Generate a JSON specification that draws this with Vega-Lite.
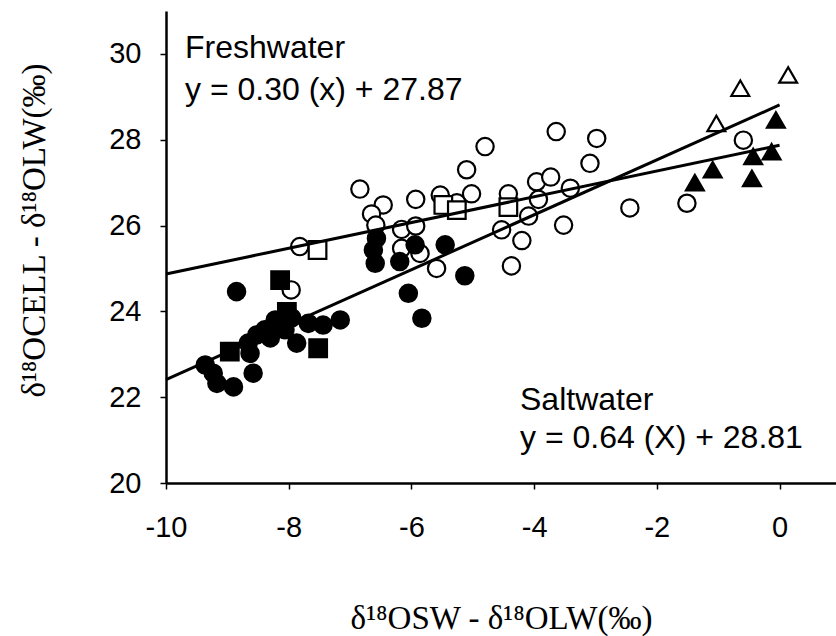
{
  "$schema": "https://vega.github.io/schema/vega-lite/v6.json",
  "autosize": {"type": "none"},
  "padding": {"left": 166, "top": 11, "right": 0, "bottom": 153},
  "width": 670,
  "height": 472,
  "background": "white",
  "config": {"view": {"stroke": null}},
  "datasets": {
    "pts": [
      {"x": -7.82, "y": 25.51, "water": "Freshwater", "species": "A"},
      {"x": -7.96, "y": 24.50, "water": "Freshwater", "species": "A"},
      {"x": -6.84, "y": 26.85, "water": "Freshwater", "species": "A"},
      {"x": -6.46, "y": 26.48, "water": "Freshwater", "species": "A"},
      {"x": -6.65, "y": 26.27, "water": "Freshwater", "species": "A"},
      {"x": -6.58, "y": 26.01, "water": "Freshwater", "species": "A"},
      {"x": -5.93, "y": 26.61, "water": "Freshwater", "species": "A"},
      {"x": -5.53, "y": 26.71, "water": "Freshwater", "species": "A"},
      {"x": -6.16, "y": 25.91, "water": "Freshwater", "species": "A"},
      {"x": -5.93, "y": 25.99, "water": "Freshwater", "species": "A"},
      {"x": -5.86, "y": 25.35, "water": "Freshwater", "species": "A"},
      {"x": -5.59, "y": 25.00, "water": "Freshwater", "species": "A"},
      {"x": -6.16, "y": 25.47, "water": "Freshwater", "species": "A"},
      {"x": -5.02, "y": 26.74, "water": "Freshwater", "species": "A"},
      {"x": -5.26, "y": 26.53, "water": "Freshwater", "species": "A"},
      {"x": -4.42, "y": 26.74, "water": "Freshwater", "species": "A"},
      {"x": -3.96, "y": 27.02, "water": "Freshwater", "species": "A"},
      {"x": -3.73, "y": 27.13, "water": "Freshwater", "species": "A"},
      {"x": -3.41, "y": 26.87, "water": "Freshwater", "species": "A"},
      {"x": -3.93, "y": 26.61, "water": "Freshwater", "species": "A"},
      {"x": -4.09, "y": 26.22, "water": "Freshwater", "species": "A"},
      {"x": -4.53, "y": 25.90, "water": "Freshwater", "species": "A"},
      {"x": -4.20, "y": 25.65, "water": "Freshwater", "species": "A"},
      {"x": -3.52, "y": 26.01, "water": "Freshwater", "species": "A"},
      {"x": -4.37, "y": 25.06, "water": "Freshwater", "species": "A"},
      {"x": -3.64, "y": 28.19, "water": "Freshwater", "species": "A"},
      {"x": -2.98, "y": 28.03, "water": "Freshwater", "species": "A"},
      {"x": -4.80, "y": 27.84, "water": "Freshwater", "species": "A"},
      {"x": -5.10, "y": 27.30, "water": "Freshwater", "species": "A"},
      {"x": -3.09, "y": 27.45, "water": "Freshwater", "species": "A"},
      {"x": -2.44, "y": 26.41, "water": "Freshwater", "species": "A"},
      {"x": -1.51, "y": 26.52, "water": "Freshwater", "species": "A"},
      {"x": -0.59, "y": 27.99, "water": "Freshwater", "species": "A"},
      {"x": -7.53, "y": 25.43, "water": "Freshwater", "species": "B"},
      {"x": -5.48, "y": 26.48, "water": "Freshwater", "species": "B"},
      {"x": -5.26, "y": 26.36, "water": "Freshwater", "species": "B"},
      {"x": -4.42, "y": 26.43, "water": "Freshwater", "species": "B"},
      {"x": -0.64, "y": 29.20, "water": "Freshwater", "species": "C"},
      {"x": 0.14, "y": 29.51, "water": "Freshwater", "species": "C"},
      {"x": -1.03, "y": 28.38, "water": "Freshwater", "species": "C"},
      {"x": -8.85, "y": 24.46, "water": "Saltwater", "species": "A"},
      {"x": -7.16, "y": 23.80, "water": "Saltwater", "species": "A"},
      {"x": -7.44, "y": 23.68, "water": "Saltwater", "species": "A"},
      {"x": -7.68, "y": 23.72, "water": "Saltwater", "species": "A"},
      {"x": -7.87, "y": 23.26, "water": "Saltwater", "species": "A"},
      {"x": -8.06, "y": 23.57, "water": "Saltwater", "species": "A"},
      {"x": -8.22, "y": 23.80, "water": "Saltwater", "species": "A"},
      {"x": -8.39, "y": 23.57, "water": "Saltwater", "species": "A"},
      {"x": -8.52, "y": 23.45, "water": "Saltwater", "species": "A"},
      {"x": -8.66, "y": 23.26, "water": "Saltwater", "species": "A"},
      {"x": -8.63, "y": 23.02, "water": "Saltwater", "species": "A"},
      {"x": -8.58, "y": 22.56, "water": "Saltwater", "species": "A"},
      {"x": -9.36, "y": 22.75, "water": "Saltwater", "species": "A"},
      {"x": -9.23, "y": 22.56, "water": "Saltwater", "species": "A"},
      {"x": -9.17, "y": 22.32, "water": "Saltwater", "species": "A"},
      {"x": -8.90, "y": 22.24, "water": "Saltwater", "species": "A"},
      {"x": -7.95, "y": 23.85, "water": "Saltwater", "species": "A"},
      {"x": -8.30, "y": 23.38, "water": "Saltwater", "species": "A"},
      {"x": -6.57, "y": 25.70, "water": "Saltwater", "species": "A"},
      {"x": -6.62, "y": 25.43, "water": "Saltwater", "species": "A"},
      {"x": -6.59, "y": 25.12, "water": "Saltwater", "species": "A"},
      {"x": -6.19, "y": 25.16, "water": "Saltwater", "species": "A"},
      {"x": -5.94, "y": 25.55, "water": "Saltwater", "species": "A"},
      {"x": -5.45, "y": 25.55, "water": "Saltwater", "species": "A"},
      {"x": -6.05, "y": 24.42, "water": "Saltwater", "species": "A"},
      {"x": -5.83, "y": 23.84, "water": "Saltwater", "species": "A"},
      {"x": -5.13, "y": 24.83, "water": "Saltwater", "species": "A"},
      {"x": -8.14, "y": 24.73, "water": "Saltwater", "species": "B"},
      {"x": -8.03, "y": 23.99, "water": "Saltwater", "species": "B"},
      {"x": -8.96, "y": 23.06, "water": "Saltwater", "species": "B"},
      {"x": -7.52, "y": 23.14, "water": "Saltwater", "species": "B"},
      {"x": -0.06, "y": 28.46, "water": "Saltwater", "species": "C"},
      {"x": -0.13, "y": 27.72, "water": "Saltwater", "species": "C"},
      {"x": -0.43, "y": 27.61, "water": "Saltwater", "species": "C"},
      {"x": -0.45, "y": 27.10, "water": "Saltwater", "species": "C"},
      {"x": -1.09, "y": 27.30, "water": "Saltwater", "species": "C"},
      {"x": -1.38, "y": 27.00, "water": "Saltwater", "species": "C"}
    ],
    "fits": [
      {"water": "Freshwater", "x": -10, "y": 24.87},
      {"water": "Freshwater", "x": 0, "y": 27.87},
      {"water": "Saltwater", "x": -10, "y": 22.41},
      {"water": "Saltwater", "x": 0, "y": 28.81}
    ],
    "notes": [
      {"label": "Freshwater", "x": -9.69, "y": 29.91},
      {"label": "y = 0.30 (x) + 27.87", "x": -9.69, "y": 28.93},
      {"label": "Saltwater", "x": -4.23, "y": 21.70},
      {"label": "y = 0.64 (X) + 28.81", "x": -4.23, "y": 20.82}
    ]
  },
  "layer": [
    {
      "data": {"name": "pts"},
      "mark": {"type": "point", "filled": true, "stroke": "black", "strokeWidth": 2.2, "opacity": 1, "clip": false},
      "encoding": {
        "x": {
          "field": "x", "type": "quantitative",
          "scale": {"domain": [-10, 0.92], "nice": false, "zero": false},
          "axis": {
            "values": [-10, -8, -6, -4, -2, 0],
            "labelExpr": "'' + datum.value",
            "grid": false,
            "domainColor": "black", "domainWidth": 2.5,
            "tickColor": "black", "tickWidth": 1.5, "tickSize": 6,
            "labelFont": "Liberation Sans", "labelFontSize": 29, "labelColor": "black", "labelPadding": 24,
            "labelFlush": false,
            "title": "δ¹⁸OSW - δ¹⁸OLW(‰)",
            "titleFont": "Liberation Serif", "titleFontSize": 33, "titleFontWeight": "normal", "titleColor": "black",
            "titleBaseline": "alphabetic", "titleY": 145
          }
        },
        "y": {
          "field": "y", "type": "quantitative",
          "scale": {"domain": [20, 31], "nice": false, "zero": false},
          "axis": {
            "values": [20, 22, 24, 26, 28, 30],
            "grid": false,
            "domainColor": "black", "domainWidth": 2.5,
            "tickColor": "black", "tickWidth": 1.5, "tickSize": 6,
            "labelFont": "Liberation Sans", "labelFontSize": 29, "labelColor": "black", "labelPadding": 19,
            "labelFlush": false,
            "title": "δ¹⁸OCELL - δ¹⁸OLW(‰)",
            "titleFont": "Liberation Serif", "titleFontSize": 33, "titleFontWeight": "normal", "titleColor": "black",
            "titleBaseline": "middle", "titleX": -132, "titleY": 219
          }
        },
        "shape": {
          "field": "species", "type": "nominal",
          "scale": {"domain": ["A", "B", "C"], "range": ["circle", "square", "triangle-up"]},
          "legend": null
        },
        "fill": {
          "field": "water", "type": "nominal",
          "scale": {"domain": ["Freshwater", "Saltwater"], "range": ["white", "black"]},
          "legend": null
        },
        "size": {
          "field": "species", "type": "nominal",
          "scale": {"domain": ["A", "B", "C"], "range": [300, 320, 380]},
          "legend": null
        }
      }
    },
    {
      "data": {"name": "fits"},
      "mark": {"type": "line", "color": "black", "strokeWidth": 3},
      "encoding": {
        "x": {"field": "x", "type": "quantitative"},
        "y": {"field": "y", "type": "quantitative"},
        "detail": {"field": "water", "type": "nominal"}
      }
    },
    {
      "data": {"name": "notes"},
      "mark": {"type": "text", "align": "left", "baseline": "alphabetic", "font": "Liberation Sans", "fontSize": 32, "color": "black"},
      "encoding": {
        "x": {"field": "x", "type": "quantitative"},
        "y": {"field": "y", "type": "quantitative"},
        "text": {"field": "label", "type": "nominal"}
      }
    }
  ]
}
